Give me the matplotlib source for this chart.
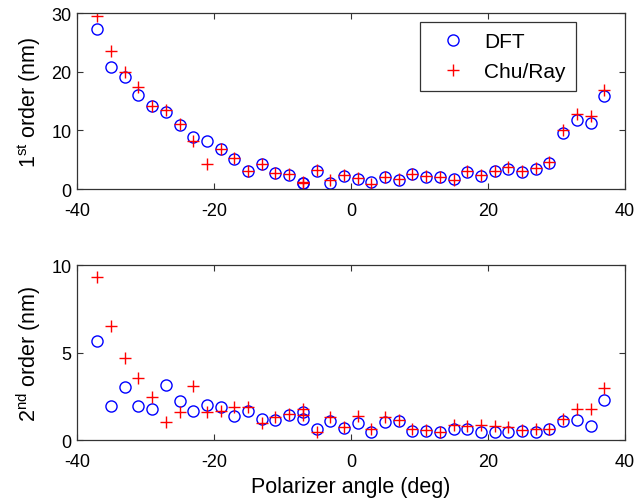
import numpy as np
import matplotlib
import matplotlib.pyplot as plt

matplotlib.use("Agg")
plt.rcParams['font.family'] = ['Liberation Sans', 'DejaVu Sans']
plt.rcParams['mathtext.fontset'] = 'custom'
plt.rcParams['mathtext.rm'] = 'Liberation Sans'
plt.rcParams['mathtext.it'] = 'Liberation Sans'
plt.rcParams['mathtext.default'] = 'regular'
plt.rcParams['axes.unicode_minus'] = False

# polarizer angles (deg); -7 was measured twice
angle = [-37, -35, -33, -31, -29, -27, -25, -23, -21, -19, -17, -15, -13, -11, -9, -7, -7,
         -5, -3, -1, 1, 3, 5, 7, 9, 11, 13, 15, 17, 19, 21, 23, 25, 27, 29, 31, 33, 35, 37]

first_dft = [27.3, 20.8, 19.1, 16.1, 14.1, 13.2, 10.9, 8.8, 8.1, 6.8, 5.2, 3.1, 4.3, 2.7, 2.4, 1.0, 1.1,
             3.1, 1.0, 2.3, 1.7, 1.25, 2.0, 1.6, 2.55, 2.1, 2.1, 1.7, 2.95, 2.3, 3.0, 3.4, 2.95,
             3.4, 4.5, 9.5, 11.8, 11.2, 15.8]
first_chu = [29.5, 23.6, 20.0, 17.4, 14.2, 13.5, 11.1, 8.2, 4.3, 6.9, 5.3, 3.0, 4.3, 2.8, 2.5, 1.1, 1.2,
             3.2, 1.5, 2.4, 1.8, 0.8, 2.0, 1.7, 2.6, 2.2, 2.1, 1.6, 3.0, 2.4, 3.1, 3.7, 3.0,
             3.5, 4.6, 10.0, 12.8, 12.4, 16.8]

second_dft = [5.63, 1.97, 3.05, 1.97, 1.77, 3.17, 2.21, 1.64, 2.02, 1.91, 1.35, 1.64, 1.2, 1.16, 1.45,
              1.58, 1.2, 0.63, 1.1, 0.69, 1.0, 0.44, 1.01, 1.07, 0.53, 0.5, 0.44, 0.63, 0.63, 0.48,
              0.48, 0.44, 0.53, 0.44, 0.63, 1.07, 1.15, 0.82, 2.31]
second_chu = [9.31, 6.5, 4.7, 3.53, 2.48, 1.05, 1.62, 3.11, 1.62, 1.68, 1.87, 1.87, 0.95, 1.3, 1.49,
              1.77, 1.45, 0.48, 1.3, 0.73, 1.39, 0.63, 1.3, 1.16, 0.63, 0.55, 0.48, 0.86, 0.82, 0.86,
              0.78, 0.73, 0.57, 0.63, 0.63, 1.2, 1.77, 1.77, 2.96]


def style_axes(ax, yticks):
    ax.set_xlim(-40, 40)
    ax.set_xticks([-40, -20, 0, 20, 40])
    ax.set_ylim(yticks[0], yticks[-1])
    ax.set_yticks(yticks)
    ax.tick_params(direction='in', top=True, right=True, labelsize=13, length=4, width=0.8,
                   color='#333333')
    ax.tick_params(axis='x', pad=9)
    ax.tick_params(axis='y', pad=4)
    for s in ax.spines.values():
        s.set_linewidth(0.9)
        s.set_color('#333333')


fig = plt.figure(figsize=(6.35, 5.02), dpi=100)
ax1 = fig.add_axes([0.121, 0.6215, 0.863, 0.3506])
ax2 = fig.add_axes([0.121, 0.1215, 0.863, 0.3486])

ax1.plot(angle, first_dft, 'o', mfc='none', mec='blue', ms=8, mew=1.0, label='DFT')
ax1.plot(angle, first_chu, '+', color='red', ms=9, mew=1.0, label='Chu/Ray')
style_axes(ax1, [0, 10, 20, 30])
ax1.set_ylabel('1$^{st}$ order (nm)', fontsize=15.5, labelpad=6)
leg = ax1.legend(loc='upper right', bbox_to_anchor=(0.9106, 0.949), borderaxespad=0, fontsize=15,
                 frameon=True, fancybox=False, edgecolor='black', borderpad=0.5,
                 handletextpad=0.45, labelspacing=0.5, handlelength=2.1)
leg.get_frame().set_linewidth(0.9)

ax2.plot(angle, second_dft, 'o', mfc='none', mec='blue', ms=8, mew=1.0)
ax2.plot(angle, second_chu, '+', color='red', ms=9, mew=1.0)
style_axes(ax2, [0, 5, 10])
ax2.set_ylabel('2$^{nd}$ order (nm)', fontsize=15.5, labelpad=6)
ax2.set_xlabel('Polarizer angle (deg)', fontsize=15.5, labelpad=5)

fig.savefig('out.png', dpi=100)
